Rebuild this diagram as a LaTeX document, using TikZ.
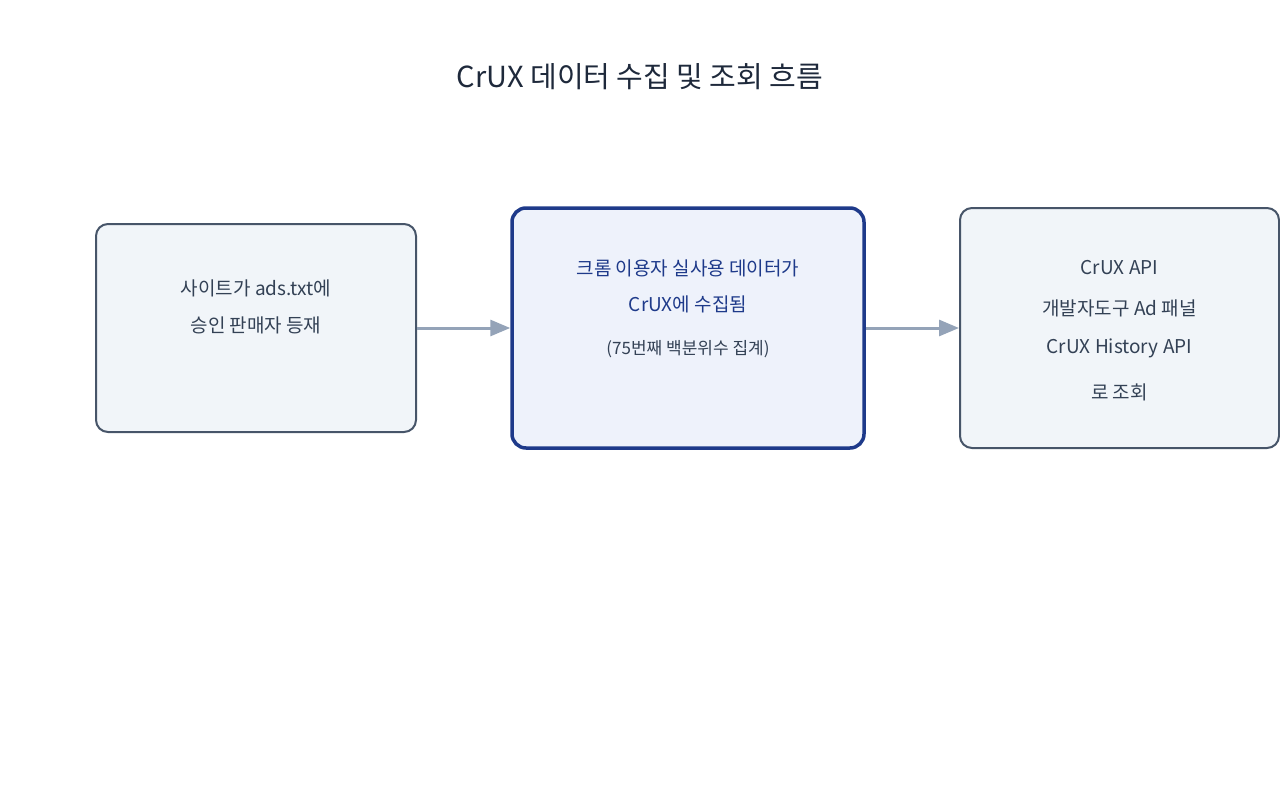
\documentclass[tikz,border=0pt]{standalone}
\usepackage{fontspec}
\setmainfont{Noto Sans CJK KR}
\usetikzlibrary{positioning,arrows.meta}
\definecolor{boxline}{HTML}{475569}
\definecolor{boxfill}{HTML}{F1F5F9}
\definecolor{midline}{HTML}{1E3A8A}
\definecolor{midfill}{HTML}{EEF2FB}
\definecolor{arrowc}{HTML}{94A3B8}
\definecolor{txt}{HTML}{334155}
\definecolor{titlec}{HTML}{1E293B}
\tikzset{
  box/.style={draw=boxline,fill=boxfill,line width=2pt,rounded corners=12pt,inner sep=0pt},
  midbox/.style={draw=midline,fill=midfill,line width=3.5pt,rounded corners=14pt,inner sep=0pt},
  lbl/.style={text=txt,font=\fontsize{19}{22}\selectfont,inner sep=0pt},
  flow/.style={draw=arrowc,line width=3pt,-{Triangle[length=20pt,width=16pt]}}
}
\begin{document}
\begin{tikzpicture}[x=1pt,y=-1pt]
\useasboundingbox (0,0) rectangle (1280,800);
\node[text=titlec,font=\fontsize{29}{34}\selectfont] (title) at (640,77) {CrUX 데이터 수집 및 조회 흐름};

\node[box,minimum width=320pt,minimum height=208pt] (site) at (256,328) {};
\node[midbox,minimum width=352pt,minimum height=240pt] (crux) at (688,328) {};
\node[box,minimum width=319pt,minimum height=240pt] (api) at (1119.5,328) {};

% left box
\node[lbl] (s1) at (256,288) {사이트가 ads.txt에};
\node[lbl] (s2) at (256,325) {승인 판매자 등재};
% middle box
\node[lbl,text=midline] (c1) at (688,268) {크롬 이용자 실사용 데이터가};
\node[lbl,text=midline] (c2) at (688,304) {CrUX에 수집됨};
\node[lbl,font=\fontsize{17}{20}\selectfont] (c3) at (688,349) {(75번째 백분위수 집계)};
% right box
\node[lbl] (a1) at (1119.5,268) {CrUX API};
\node[lbl] (a2) at (1119.5,308) {개발자도구 Ad 패널};
\node[lbl] (a3) at (1119.5,348) {CrUX History API};
\node[lbl] (a4) at (1119.5,392) {로 조회};

\draw[flow] (site.east) -- (crux.west);
\draw[flow] (crux.east) -- (api.west);
\end{tikzpicture}
\end{document}
